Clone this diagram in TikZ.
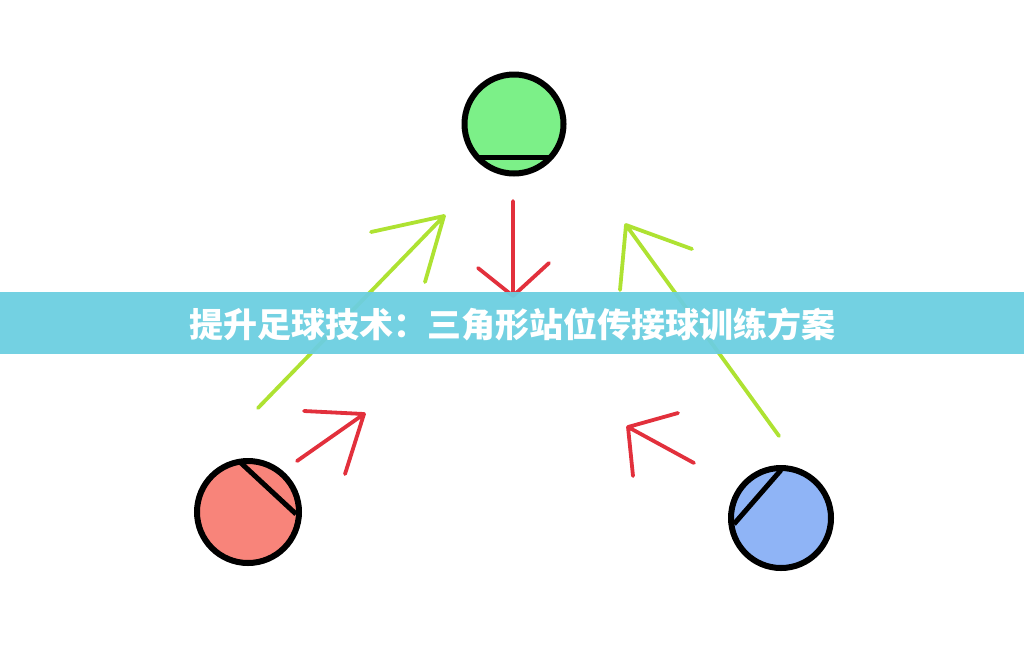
\documentclass[tikz,border=0pt]{standalone}
\usepackage{fontspec}
\newfontfamily\cjk{Noto Sans CJK SC}[BoldFont={* Black}]
\usetikzlibrary{positioning}
\definecolor{ballgreen}{HTML}{7CF088}
\definecolor{ballred}{HTML}{F8847A}
\definecolor{ballblue}{HTML}{8FB4F6}
\definecolor{passred}{HTML}{E2303C}
\definecolor{passlime}{HTML}{AEE232}
\definecolor{banner}{HTML}{6CCFE0}
\tikzset{
	every node/.style = {font=\Large},
	player/.style = {circle, draw=black, line width=6pt, inner sep=0pt},
	chord/.style = {line width=5pt, black},
	redpass/.style = {line width=3.8pt, passred, line cap=round, line join=round},
	limepass/.style = {line width=3.8pt, passlime, line cap=round, line join=round}
}
\begin{document}
\begin{tikzpicture}[x=1pt, y=-1pt]
		\useasboundingbox (0,0) rectangle (1024,649);
		% players
		\node[player, fill=ballgreen, minimum size=99pt] (top) at (514,124) {};
		\node[player, fill=ballred, minimum size=102pt] (left) at (248,512) {};
		\node[player, fill=ballblue, minimum size=100pt] (right) at (781,518) {};
		% stripes
		\coordinate (top a) at (478,157); \coordinate (top b) at (550,157);
		\coordinate (left a) at (241,463); \coordinate (left b) at (296,514);
		\coordinate (right a) at (781,470); \coordinate (right b) at (734,524);
		\draw[chord] (top a) -- (top b);
		\draw[chord] (left a) -- (left b);
		\draw[chord] (right a) -- (right b);
		
		% long passes
		\coordinate (lp tail) at (258,408); \coordinate (lp tip) at (444,216);
		\coordinate (lp a) at (371,232); \coordinate (lp b) at (425,282);
		\draw[limepass] (lp tail) -- (lp tip) (lp a) -- (lp tip) -- (lp b);
		
		\coordinate (rp tail) at (779,436); \coordinate (rp tip) at (626,225);
		\coordinate (rp a) at (620,290); \coordinate (rp b) at (692,249);
		\draw[limepass] (rp tail) -- (rp tip) (rp a) -- (rp tip) -- (rp b);
		
		% short passes
		\coordinate (dp tail) at (513,201); \coordinate (dp tip) at (513,296);
		\coordinate (dp a) at (478,268); \coordinate (dp b) at (549,263);
		\draw[redpass] (dp tail) -- (dp tip) (dp a) -- (dp tip) -- (dp b);
		
		\coordinate (ls tail) at (297,461); \coordinate (ls tip) at (364,414);
		\coordinate (ls a) at (304,411); \coordinate (ls b) at (345,474);
		\draw[redpass] (ls tail) -- (ls tip) (ls a) -- (ls tip) -- (ls b);
		
		\coordinate (rs tail) at (694,463); \coordinate (rs tip) at (628,427);
		\coordinate (rs a) at (678,413); \coordinate (rs b) at (633,476);
		\draw[redpass] (rs tail) -- (rs tip) (rs a) -- (rs tip) -- (rs b);
		
		% title
		\fill[banner, fill opacity=0.95] (0,292) rectangle (1024,354);
		\node[text=white, font={\cjk\bfseries\fontsize{34pt}{38pt}\selectfont}] (title) at (512,324) {提升足球技术：三角形站位传接球训练方案};
	\end{tikzpicture}
\end{document}
